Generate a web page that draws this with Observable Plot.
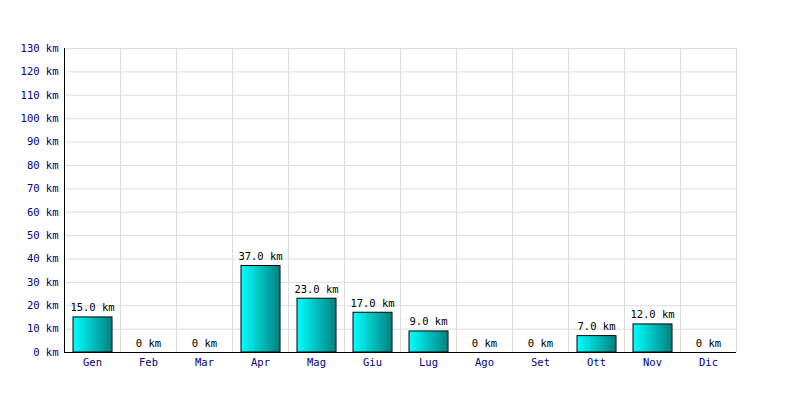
<!DOCTYPE html>
<html><head><meta charset="utf-8">
<script src="https://cdn.jsdelivr.net/npm/d3@7"></script>
<script src="https://cdn.jsdelivr.net/npm/@observablehq/plot@0.6"></script>
<style>body{margin:0;background:#fff;} svg{display:block;}</style>
</head><body><div id="chart"></div>
<script>
const months = ["Gen","Feb","Mar","Apr","Mag","Giu","Lug","Ago","Set","Ott","Nov","Dic"];
const km = [15,0,0,37,23,17,9,0,0,7,12,0];
const yTicks = [0,10,20,30,40,50,60,70,80,90,100,110,120,130];

const data = months.map((m,i)=>({m, v: km[i]}));
const fmt = v => v === 0 ? "0 km" : v.toFixed(1) + " km";

const chart = Plot.plot({
  width: 800, height: 400,
  marginLeft: 64, marginRight: 64, marginTop: 48, marginBottom: 48,
  style: {fontFamily: "'DejaVu Sans Mono', monospace", fontSize: "10px", background: "#fff"},
  x: {domain: months, padding: 0, label: null},
  y: {domain: [0,130], label: null},
  marks: [
    Plot.ruleY(yTicks, {stroke: "#dddddd", strokeOpacity: 1}),
    Plot.ruleX(months, {x: d=>d, dx: 28, stroke: "#dddddd"}),
    Plot.barY(data, {x: "m", y: "v", fill: "url(#barGrad)", stroke: "#000", strokeWidth: 1, insetLeft: 9, insetRight: 8}),
    Plot.text(data, {x: "m", y: "v", text: d=>fmt(d.v), dy: -6, lineAnchor: "bottom", fill: "#000", fontSize: 10.5}),
    Plot.ruleY([0], {stroke: "#000"}),
    Plot.ruleX([months[0]], {dx: -28, stroke: "#000"}),
    Plot.axisY(yTicks, {tickSize: 0, tickPadding: 6, tickFormat: d => d + " km", fill: "#000080", fontSize: 10.5}),
    Plot.axisX({tickSize: 0, tickPadding: 6, fill: "#000080", fontSize: 10.5, label: null})
  ]
});

const svg = d3.select(chart);
const defs = svg.insert("defs", ":first-child");
const g = defs.append("linearGradient").attr("id","barGrad").attr("x1","0").attr("x2","1").attr("y1","0").attr("y2","0");
g.append("stop").attr("offset","0%").attr("stop-color","#00ffff");
g.append("stop").attr("offset","100%").attr("stop-color","#008080");
document.getElementById("chart").appendChild(chart);
</script></body></html>
